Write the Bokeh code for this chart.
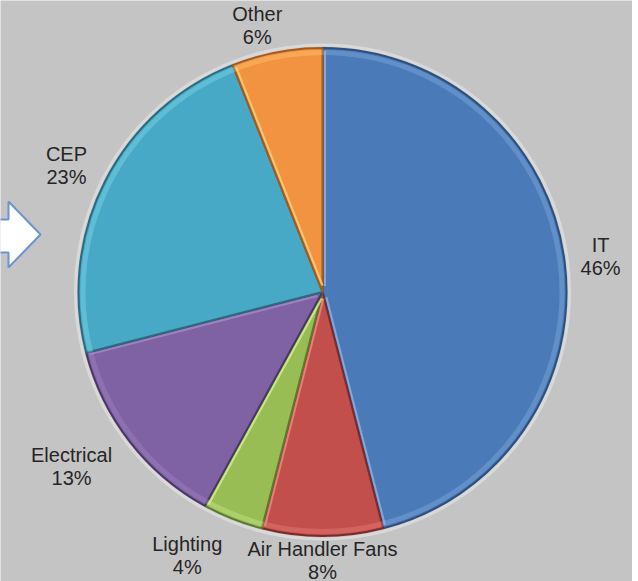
import math
from bokeh.plotting import figure
from bokeh.models import Range1d, ColumnDataSource
from bokeh.core.properties import value
from bokeh.embed import file_html
from bokeh.resources import INLINE

# ---- data ----
categories = ["IT", "Air Handler Fans", "Lighting", "Electrical", "CEP", "Other"]
percents = [46, 8, 4, 13, 23, 6]
colors = ["#4a7bb8", "#c24f4b", "#98bd55", "#7e62a3", "#47a9c5", "#f29341"]
edge_colors = ["#2c4f7e", "#7a2b29", "#5a7a2c", "#4a3668", "#2a6b80", "#a35a1c"]
highlight = ["#8fb4e6", "#f08a85", "#d5f08f", "#a58bc8", "#8fe3f7", "#ffd27a"]

# ---- layout ----
W, H = 632, 581
CX, CY = 322, H - 291.5
R = 244
label_r = [279.5, 275, 302, 310, 282.5, 267.6]
label_nudge = [1.3, 0.0, 5.0, 1.85, -2.0, -3.3]
LINE_GAP = 23
TEXT_SHIFT = 7
FONT = "Liberation Sans"

p = figure(width=W, height=H, x_range=Range1d(0, W), y_range=Range1d(0, H),
           output_backend="svg", toolbar_location=None, min_border=0)
p.axis.visible = False
p.grid.visible = False
p.outline_line_color = None
p.background_fill_color = "#c4c4c4"
p.border_fill_color = "#c4c4c4"

total = sum(percents)
cum = 0.0
starts, ends, mids = [], [], []
for v in percents:
    t1 = cum / total * 360.0
    cum += v
    t2 = cum / total * 360.0
    starts.append(t1)
    ends.append(t2)
    mids.append((t1 + t2) / 2)

def math_ang(theta_deg):
    # clockwise-from-top degrees -> math radians
    return math.radians(90.0 - theta_deg)

# faint halo outside pie
p.circle(x=[CX], y=[CY], radius=R + 3, fill_color=None, line_color="#e2e2e2",
         line_alpha=0.7, line_width=3)

src = ColumnDataSource(dict(
    x=[CX] * len(percents), y=[CY] * len(percents),
    start=[math_ang(s) for s in starts], end=[math_ang(e) for e in ends],
    fill=colors, edge=edge_colors, hl=highlight,
))
p.wedge(x="x", y="y", radius=R, start_angle="start", end_angle="end",
        direction="clock", fill_color="fill", line_color="edge", line_width=2,
        source=src)
# inner rim bevel highlight
p.annular_wedge(x="x", y="y", inner_radius=R - 7, outer_radius=R - 2,
                start_angle="start", end_angle="end", direction="clock",
                fill_color="hl", fill_alpha=0.35, line_color=None, source=src)

# light edge lines on right-facing side of slices
hx0, hy0, hx1, hy1, hc = [], [], [], [], []
for i in range(len(percents)):
    for th, side in ((starts[i], +1), (ends[i], -1)):
        a = math_ang(th)
        ux, uy = math.cos(a), math.sin(a)
        px, py = (uy, -ux) if side > 0 else (-uy, ux)
        if px <= 0.05:
            continue
        off = 2.5
        hx0.append(CX + px * off + ux * 6)
        hy0.append(CY + py * off + uy * 6)
        hx1.append(CX + px * off + ux * (R - 3))
        hy1.append(CY + py * off + uy * (R - 3))
        hc.append(highlight[i])
p.segment(x0=hx0, y0=hy0, x1=hx1, y1=hy1, line_color=hc, line_width=2, line_alpha=0.8)

# labels
lx, ly1, ly2, names, pcts = [], [], [], [], []
for i, (name, v) in enumerate(zip(categories, percents)):
    a = math_ang(mids[i] + label_nudge[i])
    x = CX + label_r[i] * math.cos(a)
    y = CY + label_r[i] * math.sin(a) + TEXT_SHIFT
    lx.append(x)
    ly1.append(y + LINE_GAP / 2)
    ly2.append(y - LINE_GAP / 2)
    names.append(name)
    pcts.append(f"{v}%")
p.text(x=lx, y=ly1, text=names, text_font=value(FONT), text_font_size="20px",
       text_color="#262626", text_align="center", text_baseline="alphabetic")
p.text(x=lx, y=ly2, text=pcts, text_font=value(FONT), text_font_size="20px",
       text_color="#262626", text_align="center", text_baseline="alphabetic")

# white arrow on the left edge
ax = [-2, 8, 8, 40, 8, 8, -2]
ay_px = [219, 219, 201, 234, 267, 252, 252]
p.patch(x=ax, y=[H - v for v in ay_px], fill_color="white",
        line_color="#6b93cf", line_width=2)

open("out.html", "w").write(file_html(p, INLINE))
